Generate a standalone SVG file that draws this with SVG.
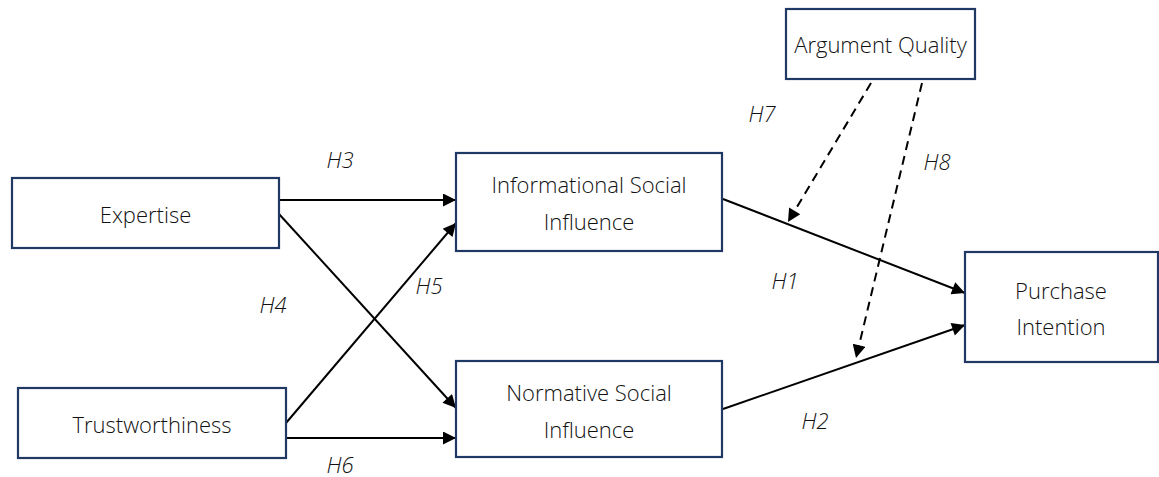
<svg xmlns="http://www.w3.org/2000/svg" width="1159" height="477" viewBox="0 0 1159 477">
<style>
.box{fill:#fff;stroke:#1f3864;stroke-width:2.2}
.t{font-family:"Open Sans","Noto Sans",sans-serif;font-weight:300;font-size:22px;fill:#111;text-anchor:middle}
.h{font-family:"Open Sans","Noto Sans",sans-serif;font-weight:300;font-style:italic;font-size:22px;fill:#111;text-anchor:middle}
.c{stroke:#000;stroke-width:2;fill:none;marker-end:url(#ah)}
.d{stroke-dasharray:9,6}
</style>
<defs>
<marker id="ah" viewBox="0 0 10 10" refX="10" refY="5" markerWidth="7.5" markerHeight="6.5" markerUnits="strokeWidth" orient="auto">
<path d="M0,0 L10,5 L0,10 z" fill="#000"/>
</marker>
</defs>
<g id="connectors">
<line class="c" x1="279" y1="200" x2="456" y2="200"/>
<line class="c" x1="279" y1="214" x2="456" y2="408"/>
<line class="c" x1="286" y1="423" x2="456" y2="223"/>
<line class="c" x1="286" y1="438" x2="456" y2="438"/>
<line class="c" x1="723" y1="199" x2="965" y2="293"/>
<line class="c" x1="723" y1="409" x2="965" y2="325"/>
<line class="c d" x1="871" y1="83" x2="788" y2="222"/>
<line class="c d" x1="922" y1="83" x2="856" y2="358"/>
</g>
<g id="labels">
<text class="h" x="340" y="168">H3</text>
<text class="h" x="273" y="313">H4</text>
<text class="h" x="429" y="294">H5</text>
<text class="h" x="340" y="473">H6</text>
<text class="h" x="762" y="122">H7</text>
<text class="h" x="937" y="170">H8</text>
<text class="h" x="785" y="289">H1</text>
<text class="h" x="815" y="429">H2</text>
</g>
<g id="expertise">
<rect class="box" x="12" y="178" width="267" height="70"/>
<text class="t" x="145.5" y="223">Expertise</text>
</g>
<g id="trustworthiness">
<rect class="box" x="18" y="388" width="268" height="70"/>
<text class="t" x="152" y="433">Trustworthiness</text>
</g>
<g id="informational">
<rect class="box" x="456" y="153" width="266" height="98"/>
<text class="t" x="589" y="193">Informational Social</text>
<text class="t" x="589" y="230">Influence</text>
</g>
<g id="normative">
<rect class="box" x="456" y="361" width="266" height="96"/>
<text class="t" x="589" y="401">Normative Social</text>
<text class="t" x="589" y="438">Influence</text>
</g>
<g id="purchase">
<rect class="box" x="965" y="252" width="193" height="110"/>
<text class="t" x="1061" y="299">Purchase</text>
<text class="t" x="1061" y="335">Intention</text>
</g>
<g id="argument">
<rect class="box" x="786" y="9" width="189" height="70"/>
<text class="t" x="880.5" y="53">Argument Quality</text>
</g>
</svg>
